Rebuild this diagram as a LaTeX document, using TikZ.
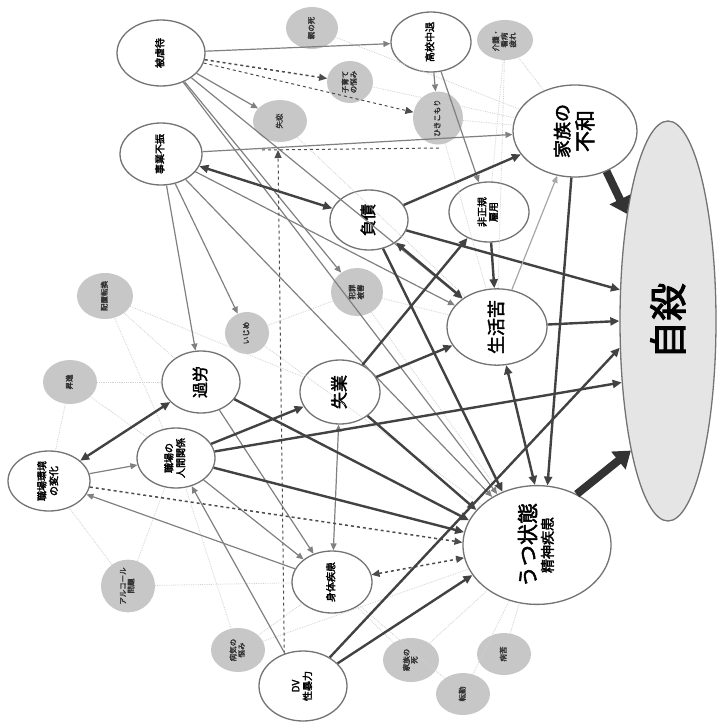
\documentclass[tikz,border=0pt]{standalone}
\usepackage{fontspec}
\newfontfamily\cjk[FakeBold=2.4]{Noto Sans CJK JP}
\usetikzlibrary{shapes.geometric,arrows.meta}
\newcommand{\rtxt}[1]{\rotatebox{90}{\renewcommand{\arraystretch}{0.95}\begin{tabular}{@{}c@{}}#1\end{tabular}}}
\newcommand{\fs}[1]{\fontsize{#1}{#1}\selectfont}

\tikzset{
  sz/.style 2 args={minimum width=#1pt, minimum height=#2pt},
  mainnode/.style={ellipse, draw=black!55, line width=1.3pt, fill=white, inner sep=0pt, font=\cjk},
  subnode/.style={ellipse, fill=black!22, inner sep=0pt, text=black!80, font=\cjk\fs{7.5}},
  heavy/.style={line width=2.4pt, draw=black!74, -{Triangle[length=9pt,width=8pt]}},
  medium/.style={line width=1.2pt, draw=black!50, -{Triangle[length=7pt,width=6pt]}},
  dashlink/.style={line width=1.5pt, draw=black!70, dashed, -{Triangle[length=8pt,width=7pt]}},
  faint/.style={line width=0.8pt, draw=black!18, densely dotted},
  fat/.style={line width=8pt, draw=black!80, -{Triangle[length=16pt,width=22pt]}},
}

\begin{document}
\begin{tikzpicture}[x=1pt, y=-1pt]
  %%%%% START %%%%%
  \useasboundingbox (0,0) rectangle (722,726);

  % main factors
  \node[mainnode, sz={96}{400}, fill=black!10] (jisatsu) at (668,321) {\rtxt{\fs{38}自殺}};
  \node[mainnode, sz={148}{114}] (utsu) at (537,545) {\rtxt{\fs{21}うつ状態\\[2pt]\fs{14}精神疾患}};
  \node[mainnode, sz={124}{92}] (fuwa) at (575,131) {\rtxt{\fs{18}家族の\\[3pt]\fs{21}不和}};
  \node[mainnode, sz={100}{76}] (seikatsu) at (497,327) {\rtxt{\fs{18}生活苦}};
  \node[mainnode, sz={78}{60}] (fusai) at (369,220) {\rtxt{\fs{16}負債}};
  \node[mainnode, sz={80}{60}] (hiseiki) at (489,212) {\rtxt{\fs{10}非正規\\雇用}};
  \node[mainnode, sz={80}{60}] (chutai) at (431,42) {\rtxt{\fs{10}高校中退}};
  \node[mainnode, sz={88}{66}] (gyakutai) at (161,53) {\rtxt{\fs{10}被虐待}};
  \node[mainnode, sz={82}{62}] (jigyo) at (161,154) {\rtxt{\fs{10}事業不振}};
  \node[mainnode, sz={78}{62}] (karo) at (201,382) {\rtxt{\fs{16}過労}};
  \node[mainnode, sz={80}{64}] (shitsugyo) at (340,392) {\rtxt{\fs{17}失業}};
  \node[mainnode, sz={78}{60}] (ningen) at (176,458) {\rtxt{\fs{10}職場の\\人間関係}};
  \node[mainnode, sz={82}{60}] (henka) at (49,481) {\rtxt{\fs{10}職場環境\\の変化}};
  \node[mainnode, sz={80}{62}] (shintai) at (332,582) {\rtxt{\fs{10}身体疾患}};
  \node[mainnode, sz={88}{70}] (dv) at (303,686) {\rtxt{\fs{10}DV\\性暴力}};

  % minor factors
  \node[subnode, sz={52}{42}] (oya) at (312,28) {\rtxt{親の死}};
  \node[subnode, sz={46}{42}] (kosodate) at (350,82) {\rtxt{子育て\\の悩み}};
  \node[subnode, sz={54}{42}] (shitsuren) at (280,121) {\rtxt{失恋}};
  \node[subnode, sz={50}{44}] (hiki) at (438,118) {\rtxt{ひきこもり}};
  \node[subnode, sz={56}{40}] (kaigo) at (505,40) {\rtxt{介護・\\看病\\疲れ}};
  \node[subnode, sz={52}{48}] (hanzai) at (357,292) {\rtxt{犯罪\\被害}};
  \node[subnode, sz={44}{42}] (ijime) at (247,333) {\rtxt{いじめ}};
  \node[subnode, sz={56}{46}] (haichi) at (105,296) {\rtxt{配置転換}};
  \node[subnode, sz={54}{44}] (shoshin) at (70,382) {\rtxt{昇進}};
  \node[subnode, sz={54}{46}] (alcohol) at (128,586) {\rtxt{アルコール\\問題}};
  \node[subnode, sz={54}{44}] (byoki) at (238,650) {\rtxt{病気の\\悩み}};
  \node[subnode, sz={56}{44}] (shi) at (411,660) {\rtxt{家族の\\死}};
  \node[subnode, sz={54}{42}] (byoku) at (504,654) {\rtxt{病苦}};
  \node[subnode, sz={54}{42}] (tenkin) at (463,694) {\rtxt{転勤}};

  % faint links of minor factors
  \foreach \a/\b in {kaigo/fuwa, kaigo/seikatsu, kaigo/hiseiki, kosodate/fuwa, hiki/fuwa, hiki/seikatsu,
                     shitsuren/seikatsu, oya/fuwa, hanzai/utsu, hanzai/seikatsu, ijime/utsu, ijime/hanzai,
                     haichi/karo, haichi/ningen, haichi/shitsugyo, shoshin/ningen, shoshin/karo, shoshin/henka,
                     alcohol/henka, alcohol/ningen, alcohol/shintai, byoki/ningen, byoki/shintai, byoki/utsu,
                     shi/utsu, shi/shintai, byoku/utsu, tenkin/utsu, tenkin/shintai}
    \draw[faint] (\a) -- (\b);

  % links
  \draw[medium] (gyakutai) -- (chutai);
  \draw[dashlink] (gyakutai) -- (kosodate);
  \draw[medium] (gyakutai) -- (shitsuren);
  \draw[dashlink, line width=1pt] (gyakutai) -- (hiki);
  \draw[medium] (gyakutai) -- (hanzai);
  \draw[medium] (gyakutai) -- (seikatsu);
  \draw[medium] (gyakutai) -- (utsu.128);
  \draw[medium] (chutai) -- (hiki);
  \draw[medium] (chutai) -- (hiseiki);

  \draw[medium] (jigyo) -- (fuwa);
  \draw[medium] (jigyo) -- (karo);
  \draw[medium] (jigyo) -- (ijime);
  \draw[medium] (jigyo) -- (seikatsu);
  \draw[medium] (jigyo) -- (utsu.133);
  \draw[heavy, {Triangle[length=9pt,width=8pt]}-{Triangle[length=9pt,width=8pt]}] (jigyo) -- (fusai);
  \draw[dashlink, line width=1pt, -{Triangle[length=8pt,width=7pt]}] (dv.120) -- (278,150);
  \draw[dashlink, line width=1pt, -] (262,150) -- (440,148);

  \draw[heavy] (fusai) -- (fuwa);
  \draw[heavy] (fusai) -- (jisatsu.147);
  \draw[heavy, {Triangle[length=9pt,width=8pt]}-{Triangle[length=9pt,width=8pt]}] (fusai) -- (seikatsu);
  \draw[heavy] (fusai) -- (utsu.123);
  \draw[heavy] (hiseiki) -- (seikatsu);
  \draw[medium, draw=black!35] (seikatsu) -- (fuwa);
  \draw[heavy] (seikatsu) -- (jisatsu.180);
  \draw[heavy, {Triangle[length=9pt,width=8pt]}-{Triangle[length=9pt,width=8pt]}] (seikatsu) -- (utsu.92);
  \draw[heavy] (fuwa) -- (utsu.80);

  \draw[heavy] (shitsugyo) -- (hiseiki);
  \draw[heavy] (shitsugyo) -- (seikatsu);
  \draw[heavy] (shitsugyo) -- (utsu.150);
  \draw[medium, {Triangle[length=7pt,width=6pt]}-{Triangle[length=7pt,width=6pt]}] (shitsugyo) -- (shintai);

  \draw[heavy, {Triangle[length=9pt,width=8pt]}-{Triangle[length=9pt,width=8pt]}] (karo) -- (henka);
  \draw[heavy] (karo) -- (utsu.160);
  \draw[medium] (karo) -- (shintai);
  \draw[heavy] (ningen) -- (shitsugyo);
  \draw[heavy] (ningen) -- (jisatsu.233);
  \draw[heavy] (ningen) -- (utsu.170);
  \draw[medium] (ningen) -- (shintai);
  \draw[medium] (henka) -- (ningen);
  \draw[medium] (shintai) -- (henka);
  \draw[dashlink] (henka) -- (utsu.178);
  \draw[dashlink, {Triangle[length=8pt,width=7pt]}-{Triangle[length=8pt,width=7pt]}] (shintai) -- (utsu.190);

  \draw[heavy] (dv) -- (utsu.205);
  \draw[heavy] (dv) -- (jisatsu.209);
  \draw[medium] (dv) -- (ningen);

  \draw[fat] (fuwa.-52) -- (jisatsu.111);
  \draw[fat] (utsu.52) -- (jisatsu.254);
  %%%%% END %%%%%
\end{tikzpicture}
\end{document}
